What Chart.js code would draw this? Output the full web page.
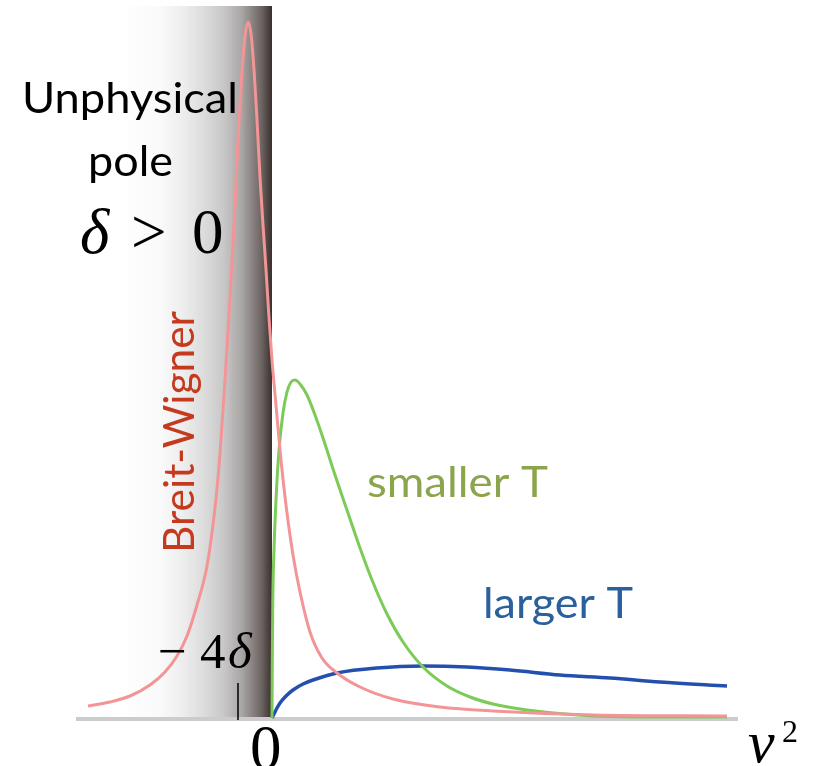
<!DOCTYPE html>
<html>
<head>
<meta charset="utf-8">
<style>
  html, body { margin: 0; padding: 0; background: #fff; }
  #chart { display: block; }
</style>
<script src="https://cdn.jsdelivr.net/npm/chart.js@4"></script>
</head>
<body>
<canvas id="chart" width="823" height="766"></canvas>
<script>
// x in arbitrary v^2 units (0 = physical threshold), y = spectral weight (arb. units)
var bwX = [-18.4, -16.2, -14.2, -12.2, -10.7, -9.5, -8.5, -7.5, -6.5, -5.7, -5.2, -4.7, -4.3, -3.9, -3.6, -3.3, -3.0, -2.7, -2.4,
           -2.1, -1.8, -1.5, -1.2, -0.9, -0.6, -0.3, 0.0, 0.4, 0.8, 1.4, 2.1, 2.8, 3.8, 5.0, 6.5, 8.8, 12.1, 16.8, 22.1, 32.1, 45.5];
var bwY = [0.12, 0.16, 0.22, 0.33, 0.46, 0.62, 0.82, 1.13, 1.52, 2.10, 2.64, 3.38, 4.03, 4.73, 5.34, 5.97, 6.47, 6.82, 6.96,
           6.84, 6.48, 5.98, 5.40, 4.93, 4.48, 4.00, 3.58, 3.13, 2.68, 2.13, 1.63, 1.26, 0.86, 0.60, 0.45, 0.31, 0.19, 0.11, 0.07, 0.03, 0.02];

var smallX = [0, 0.03, 0.08, 0.2, 0.4, 0.7, 1.1, 1.5, 1.9, 2.3, 2.8, 3.5, 4.3, 5.1, 6.3, 7.6, 8.8, 10.0, 11.5, 13.1, 15.1, 17.5, 19.8, 22.1, 25.5, 30.5, 37.8, 45.5];
var smallY = [0, 0.58, 1.18, 1.68, 2.18, 2.68, 3.05, 3.26, 3.36, 3.38, 3.34, 3.23, 3.03, 2.80, 2.43, 2.05, 1.70, 1.38, 1.04, 0.76, 0.51, 0.32, 0.21, 0.14, 0.08, 0.03, 0.01, 0.01];

var largeX = [0, 0.2, 0.5, 0.8, 1.4, 2.1, 3.1, 4.1, 6.5, 10.5, 15.1, 19.5, 23.8, 28.8, 33.8, 38.8, 45.5];
var largeY = [0, 0.04, 0.10, 0.15, 0.22, 0.28, 0.34, 0.38, 0.45, 0.50, 0.52, 0.51, 0.48, 0.43, 0.40, 0.36, 0.32];

var axisFrom = -19.6, axisTo = 46.6;
var poleTick = -3.4;          // the -4δ mark
var shadeFrom = -15.2;        // unphysical region fades in from here up to 0

function pts(xs, ys) {
  return xs.map(function(x, i) { return { x: x, y: ys[i] }; });
}

function fitText(ctx, txt, x, y, font, color, w) {
  ctx.font = font;
  var sx = w / ctx.measureText(txt).width;
  ctx.save();
  ctx.translate(x, y);
  ctx.scale(sx, 1);
  ctx.fillStyle = color;
  ctx.fillText(txt, 0, 0);
  ctx.restore();
}

var decor = {
  id: 'decor',
  beforeDatasetsDraw: function(chart) {
    var ctx = chart.ctx, xs = chart.scales.x, ys = chart.scales.y;
    var x0 = xs.getPixelForValue(shadeFrom), x1 = xs.getPixelForValue(0);
    var yTop = ys.getPixelForValue(7.12), yBot = ys.getPixelForValue(0);
    var g = ctx.createLinearGradient(x0, 0, x1, 0);
    g.addColorStop(0, '#ffffff');
    g.addColorStop(0.26, '#fafafa');
    g.addColorStop(0.42, '#ededed');
    g.addColorStop(0.55, '#dcdcdc');
    g.addColorStop(0.68, '#c9c8c8');
    g.addColorStop(0.8, '#a9a6a5');
    g.addColorStop(0.86, '#8e8886');
    g.addColorStop(0.93, '#6d6563');
    g.addColorStop(1, '#3a302e');
    ctx.save();
    ctx.fillStyle = g;
    ctx.fillRect(x0, yTop, x1 - x0, yBot - yTop);

    // v^2 axis
    ctx.strokeStyle = '#cccccc';
    ctx.lineWidth = 4;
    ctx.beginPath();
    ctx.moveTo(xs.getPixelForValue(axisFrom), ys.getPixelForValue(-0.01));
    ctx.lineTo(xs.getPixelForValue(axisTo), ys.getPixelForValue(-0.01));
    ctx.stroke();

    // -4δ tick
    ctx.strokeStyle = '#000';
    ctx.lineWidth = 1.5;
    ctx.beginPath();
    ctx.moveTo(xs.getPixelForValue(poleTick), ys.getPixelForValue(0.35));
    ctx.lineTo(xs.getPixelForValue(poleTick), ys.getPixelForValue(-0.02));
    ctx.stroke();
    ctx.restore();
  },
  afterDraw: function(chart) {
    var ctx = chart.ctx;
    ctx.save();
    ctx.textBaseline = 'alphabetic';
    ctx.textAlign = 'left';
    var sans = '43px Lato, "Open Sans", sans-serif';
    fitText(ctx, 'Unphysical', 22, 113, sans, '#000', 216);
    fitText(ctx, 'pole', 88, 176, sans, '#000', 85);
    fitText(ctx, 'smaller T', 367, 497, sans, '#8ba54d', 181);
    fitText(ctx, 'larger T', 483, 618, sans, '#2a619c', 150);

    // rotated Breit-Wigner label
    ctx.save();
    ctx.translate(194, 553);
    ctx.rotate(-Math.PI / 2);
    fitText(ctx, 'Breit-Wigner', 0, 0, sans, '#c53a1e', 242);
    ctx.restore();

    // math labels
    ctx.fillStyle = '#000';
    ctx.font = 'italic 63px "Liberation Serif", serif';
    ctx.fillText('δ', 80, 253);
    ctx.font = '63px "Liberation Serif", serif';
    ctx.fillText('>', 131, 253);
    ctx.fillText('0', 192, 253);

    ctx.font = '51px "Liberation Serif", serif';
    ctx.fillText('\u2212', 158, 668);
    ctx.fillText('4', 200, 668);
    ctx.font = 'italic 51px "Liberation Serif", serif';
    ctx.fillText('δ', 228, 668);

    ctx.font = '63px "Liberation Serif", serif';
    ctx.fillText('0', 250, 769);

    ctx.font = 'italic 60px "Liberation Serif", serif';
    ctx.fillText('v', 748, 762);
    ctx.font = '32px "Liberation Serif", serif';
    ctx.fillText('2', 782, 742);
    ctx.restore();
  }
};

new Chart(document.getElementById('chart'), {
  type: 'line',
  data: {
    datasets: [
      { label: 'Breit-Wigner', data: pts(bwX, bwY), borderColor: '#f39597', borderWidth: 3 },
      { label: 'smaller T', data: pts(smallX, smallY), borderColor: '#7ccb58', borderWidth: 3 },
      { label: 'larger T', data: pts(largeX, largeY), borderColor: '#2450ad', borderWidth: 3.5 }
    ]
  },
  options: {
    responsive: false, animation: false,
    layout: { padding: 0 },
    elements: { point: { radius: 0 }, line: { cubicInterpolationMode: 'monotone', fill: false } },
    plugins: { legend: { display: false }, tooltip: { enabled: false } },
    scales: {
      x: { type: 'linear', min: -27.2, max: 55.1, display: false },
      y: { type: 'linear', min: -0.48, max: 7.18, display: false }
    }
  },
  plugins: [decor]
});
</script>
</body>
</html>
